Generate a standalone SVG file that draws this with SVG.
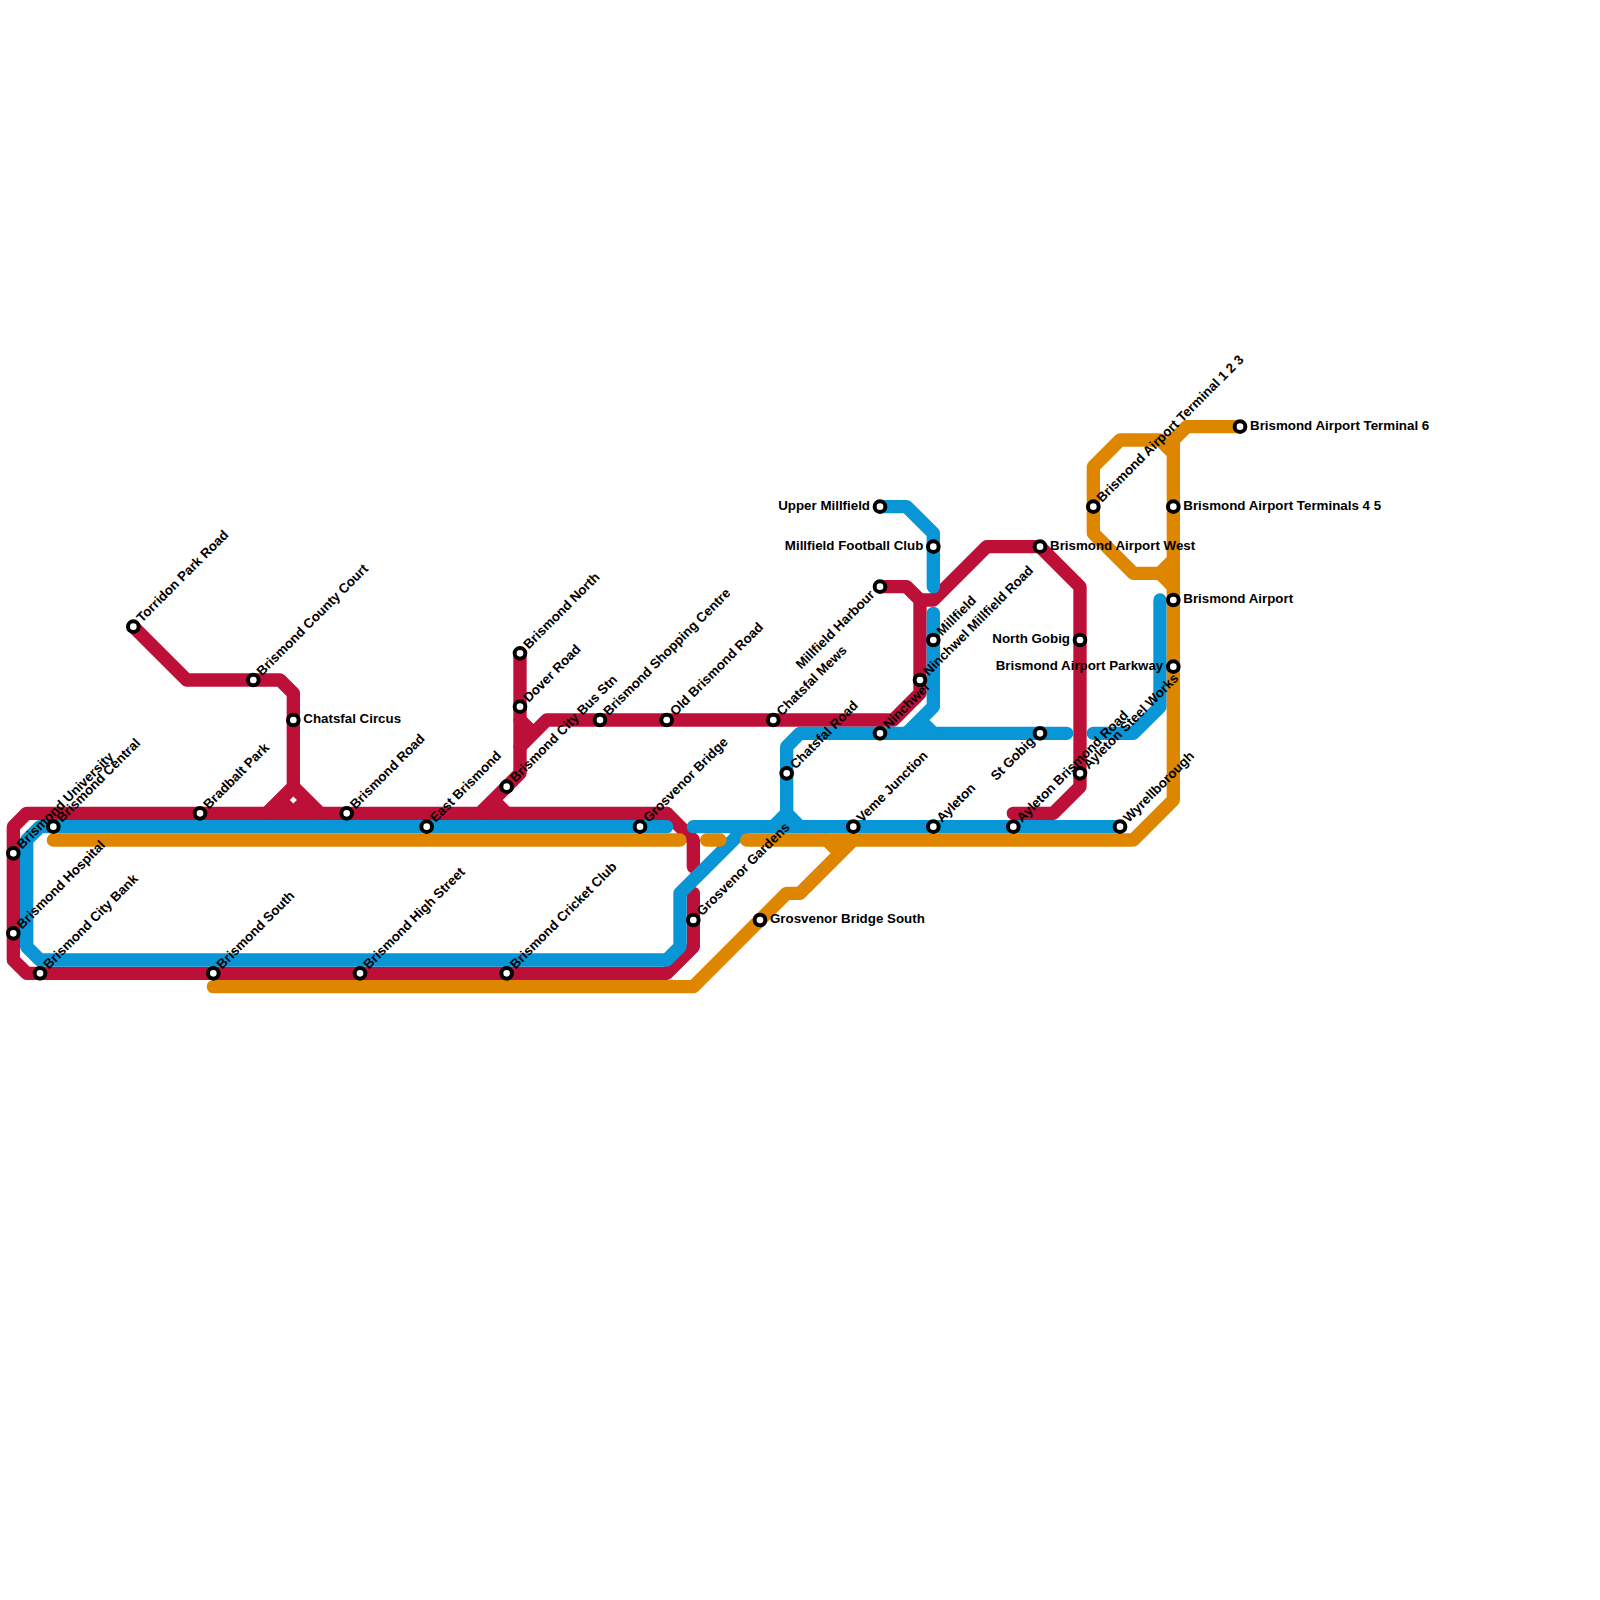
<svg xmlns="http://www.w3.org/2000/svg" width="1600" height="1600" viewBox="0 0 1600 1600">
<style>
.l{fill:none;stroke-width:13.33;stroke-linecap:round;stroke-linejoin:round}
.r{stroke:#bd1038}.b{stroke:#0896d7}.o{stroke:#df8600}
.s{fill:#fff;stroke:#000;stroke-width:4}
text{font-family:"Liberation Sans",Arial,sans-serif;font-size:13.33px;font-weight:700;fill:#000}
.e{text-anchor:end}
</style>
<rect width="1600" height="1600" fill="#fff"/>
<g id="connectors">
<g id="line-red" class="l r">
<path d="M666.67 813.33H26.67L13.33 826.67V960L26.67 973.33H666.67L693.33 946.67V893.33"/>
<path d="M666.67 813.33L693.33 840V866.67"/>
<path d="M133.33 626.67L186.67 680H280L293.33 693.33V786.67L266.67 813.33M293.33 786.67L320 813.33"/>
<path d="M520 653.33V773.33L480 813.33M493.33 800L506.67 813.33"/>
<path d="M520 720L533.33 733.33M520 746.67L546.67 720H893.33L920 693.33V600L906.67 586.67H880"/>
<path d="M920 600H933.33L986.67 546.67H1040L1080 586.67V786.67L1053.33 813.33H1013.33"/>
<path d="M293.33 790L280 807H306.67Z" fill="#bd1038"/>
<path d="M293.33 796.4L296.9 800L293.33 803.6L289.8 800Z" fill="#fff" stroke="none"/>
</g>
<g id="line-blue" class="l b">
<path d="M666.67 826.67H40L26.67 840V946.67L40 960H666.67L680 946.67V893.33L746.67 826.67"/>
<path d="M693.33 826.67H1120"/>
<path d="M773.33 826.67L786.67 813.33V746.67L800 733.33H1066.67M786.67 813.33L800 826.67"/>
<path d="M880 506.67H906.67L933.33 533.33V586.67"/>
<path d="M933.33 613.33V706.67L906.67 733.33M920 720L933.33 733.33"/>
<path d="M1093.33 733.33H1133.33L1160 706.67V600"/>
</g>
<g id="line-orange" class="l o">
<path d="M53.33 840H680M706.67 840H720M746.67 840H1133.33L1173.33 800V440L1186.67 426.67H1240"/>
<path d="M213.33 986.67H693.33L786.67 893.33H800L853.33 840M826.67 840L840 853.33"/>
<path d="M1173.33 453.33L1160 440H1120L1093.33 466.67V533.33L1133.33 573.33H1160L1173.33 560M1160 573.33L1173.33 586.67"/>
</g>
</g>
<g id="torridon-park-road"><circle class="s" cx="133.33" cy="626.67" r="5.33"/><text transform="translate(142,623) rotate(-45)">Torridon Park Road</text></g>
<g id="brismond-county-court"><circle class="s" cx="253.33" cy="680" r="5.33"/><text transform="translate(262,676.4) rotate(-45)">Brismond County Court</text></g>
<g id="chatsfal-circus"><circle class="s" cx="293.33" cy="720" r="5.33"/><text x="303.3" y="723.33">Chatsfal Circus</text></g>
<g id="bradbalt-park"><circle class="s" cx="200" cy="813.33" r="5.33"/><text transform="translate(208.7,809.7) rotate(-45)">Bradbalt Park</text></g>
<g id="brismond-road"><circle class="s" cx="346.67" cy="813.33" r="5.33"/><text transform="translate(355.4,809.7) rotate(-45)">Brismond Road</text></g>
<g id="east-brismond"><circle class="s" cx="426.67" cy="826.67" r="5.33"/><text transform="translate(435.4,823) rotate(-45)">East Brismond</text></g>
<g id="brismond-university"><circle class="s" cx="13.33" cy="853.33" r="5.33"/><text transform="translate(22,849.7) rotate(-45)">Brismond University</text></g>
<g id="brismond-central"><circle class="s" cx="53.33" cy="826.67" r="5.33"/><text transform="translate(62,823) rotate(-45)">Brismond Central</text></g>
<g id="brismond-hospital"><circle class="s" cx="13.33" cy="933.33" r="5.33"/><text transform="translate(22,929.7) rotate(-45)">Brismond Hospital</text></g>
<g id="brismond-city-bank"><circle class="s" cx="40" cy="973.33" r="5.33"/><text transform="translate(48.7,969.7) rotate(-45)">Brismond City Bank</text></g>
<g id="brismond-south"><circle class="s" cx="213.33" cy="973.33" r="5.33"/><text transform="translate(222,969.7) rotate(-45)">Brismond South</text></g>
<g id="brismond-high-street"><circle class="s" cx="360" cy="973.33" r="5.33"/><text transform="translate(368.7,969.7) rotate(-45)">Brismond High Street</text></g>
<g id="brismond-cricket-club"><circle class="s" cx="506.67" cy="973.33" r="5.33"/><text transform="translate(515.4,969.7) rotate(-45)">Brismond Cricket Club</text></g>
<g id="brismond-north"><circle class="s" cx="520" cy="653.33" r="5.33"/><text transform="translate(528.7,649.7) rotate(-45)">Brismond North</text></g>
<g id="dover-road"><circle class="s" cx="520" cy="706.67" r="5.33"/><text transform="translate(528.7,703) rotate(-45)">Dover Road</text></g>
<g id="brismond-city-bus-stn"><circle class="s" cx="506.67" cy="786.67" r="5.33"/><text transform="translate(515.4,783) rotate(-45)">Brismond City Bus Stn</text></g>
<g id="brismond-shopping-centre"><circle class="s" cx="600" cy="720" r="5.33"/><text transform="translate(608.7,716.4) rotate(-45)">Brismond Shopping Centre</text></g>
<g id="old-brismond-road"><circle class="s" cx="666.67" cy="720" r="5.33"/><text transform="translate(675.4,716.4) rotate(-45)">Old Brismond Road</text></g>
<g id="chatsfal-mews"><circle class="s" cx="773.33" cy="720" r="5.33"/><text transform="translate(782,716.4) rotate(-45)">Chatsfal Mews</text></g>
<g id="chatsfal-road"><circle class="s" cx="786.67" cy="773.33" r="5.33"/><text transform="translate(795.4,769.7) rotate(-45)">Chatsfal Road</text></g>
<g id="grosvenor-bridge"><circle class="s" cx="640" cy="826.67" r="5.33"/><text transform="translate(648.7,823) rotate(-45)">Grosvenor Bridge</text></g>
<g id="grosvenor-gardens"><circle class="s" cx="693.33" cy="920" r="5.33"/><text transform="translate(702,916.4) rotate(-45)">Grosvenor Gardens</text></g>
<g id="grosvenor-bridge-south"><circle class="s" cx="760" cy="920" r="5.33"/><text x="770" y="923.33">Grosvenor Bridge South</text></g>
<g id="upper-millfield"><circle class="s" cx="880" cy="506.67" r="5.33"/><text class="e" x="870" y="510">Upper Millfield</text></g>
<g id="millfield-football-club"><circle class="s" cx="933.33" cy="546.67" r="5.33"/><text class="e" x="923.3" y="550">Millfield Football Club</text></g>
<g id="millfield-harbour"><circle class="s" cx="880" cy="586.67" r="5.33"/><text class="e" transform="translate(875.5,595.5) rotate(-45)">Millfield Harbour</text></g>
<g id="millfield"><circle class="s" cx="933.33" cy="640" r="5.33"/><text transform="translate(942,636.4) rotate(-45)">Millfield</text></g>
<g id="ninchwel-millfield-road"><circle class="s" cx="920" cy="680" r="5.33"/><text transform="translate(928.7,676.4) rotate(-45)">Ninchwel Millfield Road</text></g>
<g id="ninchwel"><circle class="s" cx="880" cy="733.33" r="5.33"/><text transform="translate(888.7,729.7) rotate(-45)">Ninchwel</text></g>
<g id="veme-junction"><circle class="s" cx="853.33" cy="826.67" r="5.33"/><text transform="translate(862,823) rotate(-45)">Veme Junction</text></g>
<g id="ayleton"><circle class="s" cx="933.33" cy="826.67" r="5.33"/><text transform="translate(942,823) rotate(-45)">Ayleton</text></g>
<g id="ayleton-brismond-road"><circle class="s" cx="1013.33" cy="826.67" r="5.33"/><text transform="translate(1022,823) rotate(-45)">Ayleton Brismond Road</text></g>
<g id="wyrellborough"><circle class="s" cx="1120" cy="826.67" r="5.33"/><text transform="translate(1128.7,823) rotate(-45)">Wyrellborough</text></g>
<g id="st-gobig"><circle class="s" cx="1040" cy="733.33" r="5.33"/><text class="e" transform="translate(1035.5,742) rotate(-45)">St Gobig</text></g>
<g id="north-gobig"><circle class="s" cx="1080" cy="640" r="5.33"/><text class="e" x="1070" y="643.33">North Gobig</text></g>
<g id="ayleton-steel-works"><circle class="s" cx="1080" cy="773.33" r="5.33"/><text transform="translate(1088.7,769.7) rotate(-45)">Ayleton Steel Works</text></g>
<g id="brismond-airport-west"><circle class="s" cx="1040" cy="546.67" r="5.33"/><text x="1050" y="550">Brismond Airport West</text></g>
<g id="brismond-airport-terminal-1-2-3"><circle class="s" cx="1093.33" cy="506.67" r="5.33"/><text transform="translate(1102,503) rotate(-45)">Brismond Airport Terminal 1 2 3</text></g>
<g id="brismond-airport-terminals-4-5"><circle class="s" cx="1173.33" cy="506.67" r="5.33"/><text x="1183.3" y="510">Brismond Airport Terminals 4 5</text></g>
<g id="brismond-airport"><circle class="s" cx="1173.33" cy="600" r="5.33"/><text x="1183.3" y="603.33">Brismond Airport</text></g>
<g id="brismond-airport-parkway"><circle class="s" cx="1173.33" cy="666.67" r="5.33"/><text class="e" x="1163.3" y="670">Brismond Airport Parkway</text></g>
<g id="brismond-airport-terminal-6"><circle class="s" cx="1240" cy="426.67" r="5.33"/><text x="1250" y="430">Brismond Airport Terminal 6</text></g>
</svg>
